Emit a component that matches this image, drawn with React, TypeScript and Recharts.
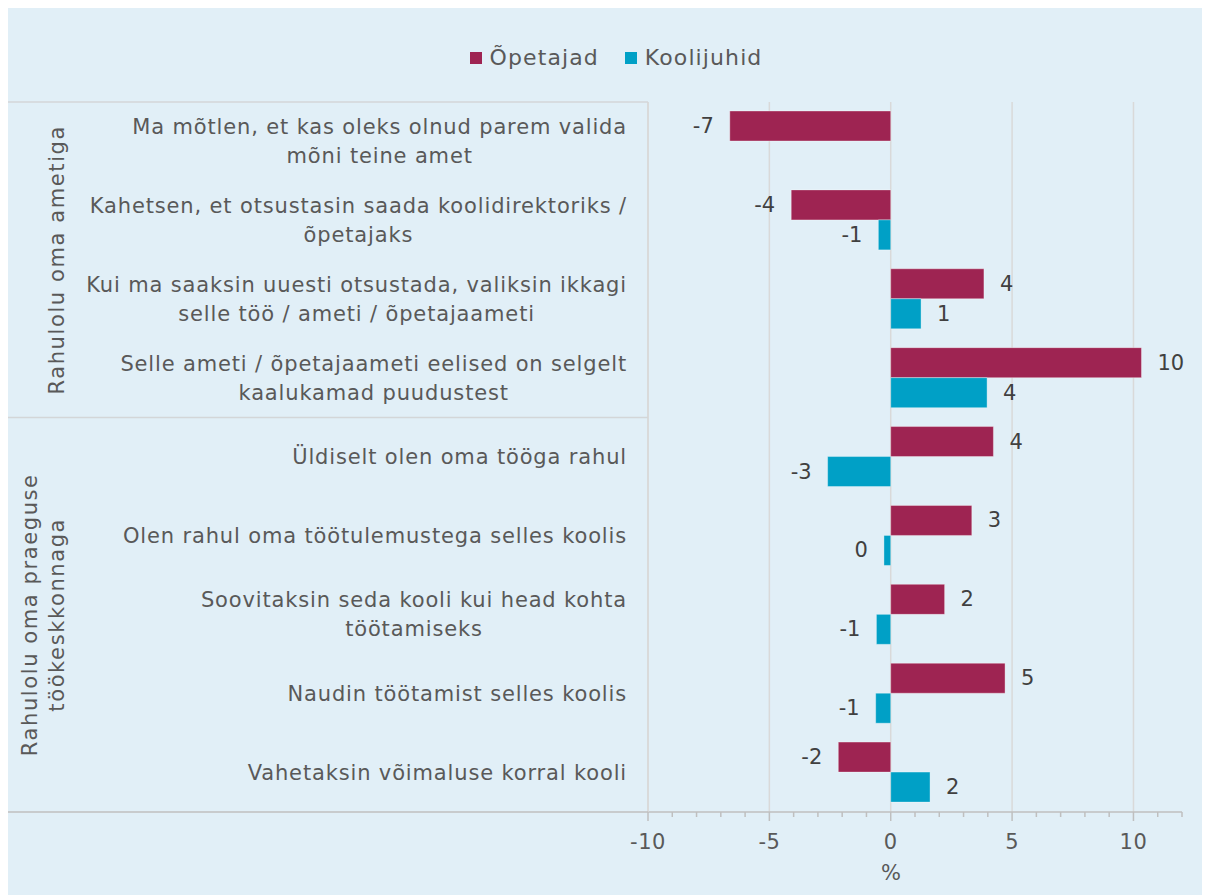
import React from "react";
import { BarChart, Bar, XAxis, YAxis, CartesianGrid, LabelList } from "recharts";

// survey items (line breaks as in the source chart)
const categories = [
  "Ma mõtlen, et kas oleks olnud parem valida\nmõni teine amet",
  "Kahetsen, et otsustasin saada koolidirektoriks /\nõpetajaks",
  "Kui ma saaksin uuesti otsustada, valiksin ikkagi\nselle töö / ameti / õpetajaameti",
  "Selle ameti / õpetajaameti eelised on selgelt\nkaalukamad puudustest",
  "Üldiselt olen oma tööga rahul",
  "Olen rahul oma töötulemustega selles koolis",
  "Soovitaksin seda kooli kui head kohta\ntöötamiseks",
  "Naudin töötamist selles koolis",
  "Vahetaksin võimaluse korral kooli",
];
const opetajad = [-6.63, -4.1, 3.84, 10.33, 4.23, 3.34, 2.22, 4.71, -2.16];
const koolijuhid = [null, -0.51, 1.25, 3.97, -2.6, -0.28, -0.59, -0.62, 1.62];
const seriesNames = ["Õpetajad", "Koolijuhid"];
const groupLabels = [["Rahulolu oma ametiga"], ["Rahulolu oma praeguse", "töökeskkonnaga"]];
const xTicks = [-10, -9, -8, -7, -6, -5, -4, -3, -2, -1, 0, 1, 2, 3, 4, 5, 6, 7, 8, 9, 10, 11, 12];
const majorTicks = [-10, -5, 0, 5, 10];

const data = categories.map((name, i) => ({ name, op: opetajad[i], kj: koolijuhid[i] }));

const W = 1202;
const H = 888;
const TOP = 95;
const PLOT_BOTTOM = 805;
const YW = 641;
const BG = "#e1eff7";
const C_OP = "#9e2452";
const C_KJ = "#00a0c6";
const TXT = "#595959";
const FONT = "'DejaVu Sans', sans-serif";
const LS = 0.85; // letter spacing to approximate the wide original face

const ctx = typeof document !== "undefined" ? document.createElement("canvas").getContext("2d") : null;
function textWidth(s: string, font: string) {
  if (!ctx) return s.length * 12;
  ctx.font = font;
  return ctx.measureText(s).width + s.length * LS;
}

function CategoryTick(props: any) {
  const { x, y, payload } = props;
  const lines = String(payload.value).split("\n");
  const size = 21;
  const w = Math.max(...lines.map((l) => textWidth(l, `${size}px DejaVu Sans`)));
  const cx = x - 21 - w / 2;
  return (
    <g>
      {lines.map((l, i) => (
        <text
          key={i}
          x={cx}
          y={y + (i - (lines.length - 1) / 2) * 29}
          textAnchor="middle"
          dominantBaseline="central"
          fill={TXT}
          fontSize={size}
          fontFamily={FONT}
          letterSpacing={LS}
        >
          {l}
        </text>
      ))}
    </g>
  );
}

function ValueTick(props: any) {
  const { x, y, payload } = props;
  const major = majorTicks.includes(payload.value);
  return (
    <g>
      <line x1={x} x2={x} y1={y} y2={y + (major ? 9 : 5)} stroke="#bfbfbf" strokeWidth={1.5} />
      {major && (
        <text
          x={x}
          y={y + 30}
          textAnchor="middle"
          dominantBaseline="central"
          fill={TXT}
          fontSize={21}
          fontFamily={FONT}
          letterSpacing={0.5}
        >
          {payload.value}
        </text>
      )}
    </g>
  );
}

function ValueLabel(props: any) {
  const { x, y, width, height, value } = props;
  if (value === null || value === undefined) return null;
  const left = Math.min(x, x + width);
  const right = Math.max(x, x + width);
  const pos = value >= 0;
  const r = Math.round(value);
  return (
    <text
      x={pos ? right + 16 : left - 16}
      y={y + height / 2}
      textAnchor={pos ? "start" : "end"}
      dominantBaseline="central"
      fill="#404040"
      fontSize={21}
      fontFamily={FONT}
    >
      {r === 0 ? "0" : String(r)}
    </text>
  );
}

export default function App() {
  const band = (PLOT_BOTTOM - TOP) / categories.length;
  const mid = TOP + band * 4;
  return (
    <div style={{ position: "relative", width: W, height: H, background: BG, marginLeft: -1, marginTop: -1 }}>
      <div
        style={{
          position: "absolute",
          top: 38,
          left: 8,
          width: W,
          display: "flex",
          justifyContent: "center",
          gap: 26,
          fontFamily: FONT,
          fontSize: 22,
          letterSpacing: 1.1,
          color: TXT,
        }}
      >
        {seriesNames.map((n, i) => (
          <div key={n} style={{ display: "flex", alignItems: "center", gap: 8 }}>
            <span style={{ width: 12, height: 12, background: i === 0 ? C_OP : C_KJ, display: "inline-block" }} />
            <span>{n}</span>
          </div>
        ))}
      </div>
      <BarChart
        width={W}
        height={H}
        data={data}
        layout="vertical"
        margin={{ top: TOP, right: 27, bottom: 0, left: 0 }}
        barGap={0}
        barSize={30}
      >
        <CartesianGrid horizontal={false} verticalValues={majorTicks} stroke="#d9d9d9" strokeWidth={1.5} />
        <XAxis
          type="number"
          domain={[-10, 12]}
          ticks={xTicks}
          interval={0}
          height={H - PLOT_BOTTOM}
          tickSize={0}
          tickMargin={0}
          tickLine={false}
          tick={<ValueTick />}
          axisLine={{ stroke: "#bfbfbf", strokeWidth: 1.5 }}
        />
        <YAxis
          type="category"
          dataKey="name"
          width={YW}
          tickSize={0}
          tickMargin={0}
          tickLine={false}
          interval={0}
          tick={<CategoryTick />}
          axisLine={{ stroke: "#d9d9d9", strokeWidth: 1.5 }}
        />
        <Bar
          dataKey="op"
          name={seriesNames[0]}
          fill={C_OP}
          stroke="#ffffff"
          strokeOpacity={0.35}
          strokeWidth={1}
          isAnimationActive={false}
        >
          <LabelList dataKey="op" content={<ValueLabel />} />
        </Bar>
        <Bar
          dataKey="kj"
          name={seriesNames[1]}
          fill={C_KJ}
          stroke="#ffffff"
          strokeOpacity={0.35}
          strokeWidth={1}
          isAnimationActive={false}
        >
          <LabelList dataKey="kj" content={<ValueLabel />} />
        </Bar>
      </BarChart>
      <svg width={W} height={H} style={{ position: "absolute", left: 0, top: 0, pointerEvents: "none" }}>
        <line x1={0} x2={YW} y1={TOP} y2={TOP} stroke="#d3d6d8" strokeWidth={1.5} />
        <line x1={0} x2={YW} y1={mid} y2={mid} stroke="#d3d6d8" strokeWidth={1.5} />
        <line x1={0} x2={YW} y1={PLOT_BOTTOM} y2={PLOT_BOTTOM} stroke="#bfbfbf" strokeWidth={1.5} />
        {groupLabels.map((lines, g) => {
          const cy = g === 0 ? (TOP + mid) / 2 : (mid + PLOT_BOTTOM) / 2;
          const cx = 50;
          return (
            <g key={g} transform={`translate(${cx - (lines.length - 1) * 27}, ${cy}) rotate(-90)`}>
              {lines.map((l, i) => (
                <text
                  key={i}
                  x={0}
                  y={i * 27}
                  textAnchor="middle"
                  dominantBaseline="central"
                  fill={TXT}
                  fontSize={21}
                  fontFamily={FONT}
                  letterSpacing={1.6}
                >
                  {l}
                </text>
              ))}
            </g>
          );
        })}
        <text x={884} y={866} textAnchor="middle" dominantBaseline="central" fill={TXT} fontSize={21} fontFamily={FONT}>
          %
        </text>
      </svg>
    </div>
  );
}
